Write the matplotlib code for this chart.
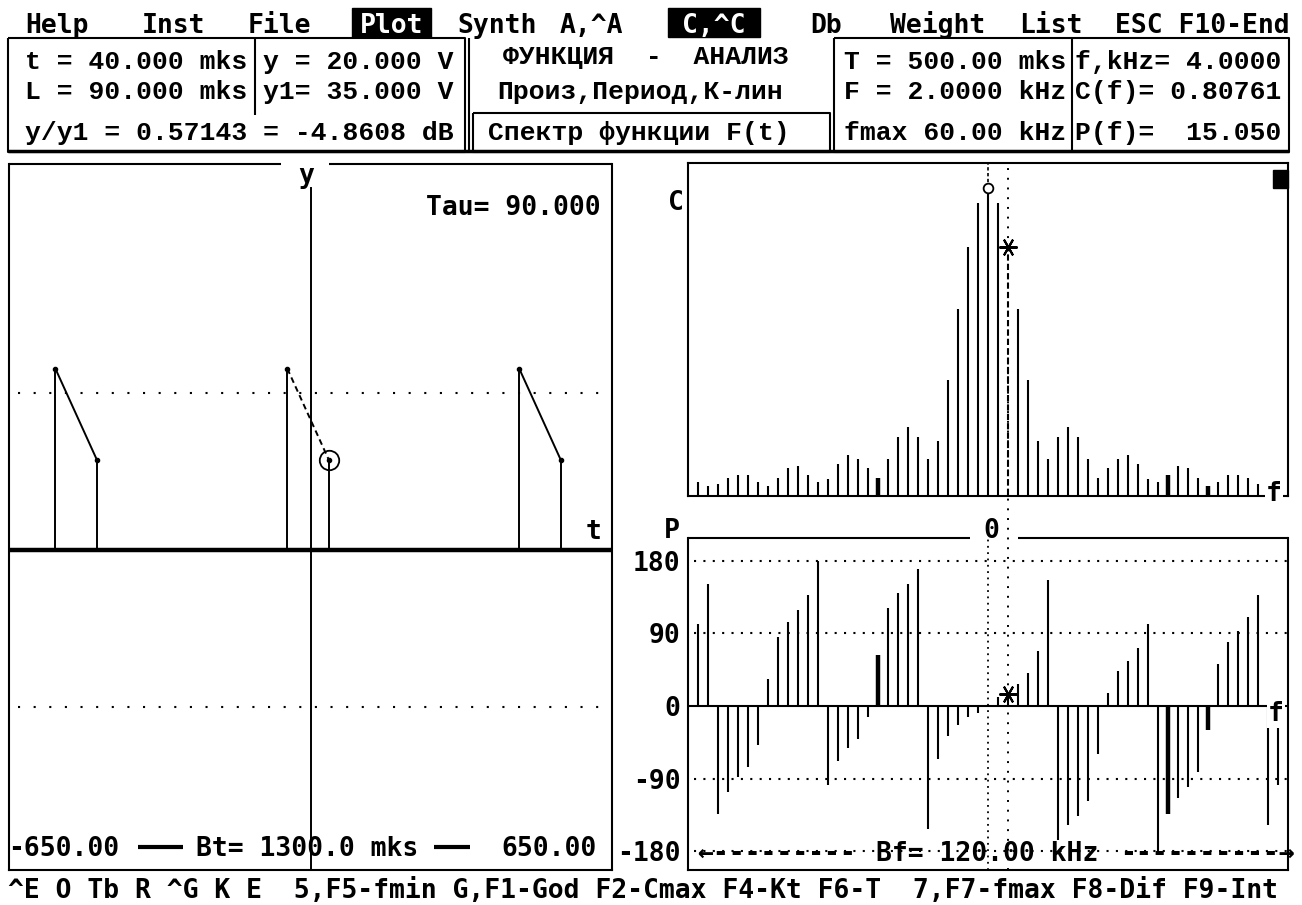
import numpy as np
import matplotlib.pyplot as plt
from matplotlib.patches import Rectangle
from matplotlib.lines import Line2D
from matplotlib.transforms import blended_transform_factory

W, H = 1302, 905

# --- сигнал во времени (mks, V) ---
T_RANGE = 650.0
PERIOD = 500.0
PULSE_L = 90.0
PULSE_T0 = [-550.0, -50.0, 450.0]     # начала импульсов
PULSE_Y = [40.5, 20.0]                # значение в начале и в конце импульса
Y1 = 35.0
T_CUR = 40.0
Y_CUR = 20.0
TAU = 90.0

# --- спектр (kHz) ---
F_STEP = 2.0
F_MAX = 60.0
F_CUR = 4.0
HARM = np.arange(-29, 30)
C_AMP = [0.043, 0.027, 0.036, 0.056, 0.065, 0.065, 0.043, 0.027, 0.056, 0.086,
         0.094, 0.065, 0.043, 0.051, 0.101, 0.129, 0.116, 0.086, 0.056, 0.116,
         0.188, 0.222, 0.188, 0.116, 0.174, 0.374, 0.604, 0.808, 0.951, 1.000,
         0.951, 0.80761, 0.604, 0.374, 0.174, 0.116, 0.188, 0.222, 0.188, 0.116,
         0.056, 0.086, 0.116, 0.129, 0.101, 0.051, 0.043, 0.065, 0.094, 0.086,
         0.056, 0.027, 0.043, 0.065, 0.065, 0.056, 0.036, 0.027, 0.043]
P_DEG = [101.6, 151, -133.8, -106, -88.3, -76, -48.7, 33, 85.9, 104.4,
         119, 137.5, 180, -97.8, -67.7, -51.6, -40.5, -13.2, 63.6, 121.4,
         140.4, 151, 170, -152.8, -65.2, -37.2, -23.5, -13.2, -8.3, 0,
         11.6, 15.05, 27.2, 41.3, 68.5, 156, -166, -147.4, -136.2, -117.2,
         -59.4, 16.5, 43.8, 55.3, 71.8, 101.6, -180, -133.8, -114.3, -100.7,
         -81.7, -29.7, 52, 79.7, 93.3, 109.8, 137, -147.4, -97.8]
THICK_HARM = [-11, 18, 22]
P_TICKS = [180, 90, 0, -90, -180]

DOS = ['DejaVu Sans Mono']
BOX = ['Liberation Mono', 'DejaVu Sans Mono']
FS = 19

plt.rcParams['font.family'] = DOS
plt.rcParams['font.weight'] = 'bold'

fig = plt.figure(figsize=(W / 100, H / 100), dpi=100)
fig.patch.set_facecolor('white')


def box(x0, y0, x1, y1):
    # пиксельный прямоугольник экрана -> координаты фигуры
    return [x0 / W, 1 - y1 / H, (x1 - x0) / W, (y1 - y0) / H]


axL = fig.add_axes(box(9, 164, 612, 870))
axC = fig.add_axes(box(688, 163, 1288, 496))
axP = fig.add_axes(box(688, 538, 1288, 870))
scr = fig.add_axes([0, 0, 1, 1], zorder=5)
scr.set_xlim(0, W)
scr.set_ylim(H, 0)
scr.axis('off')
scr.patch.set_visible(False)

for ax in (axL, axC, axP):
    for sp in ax.spines.values():
        sp.set_linewidth(1.5)
    ax.set_xticks([])
    ax.set_yticks([])
axL.spines['top'].set_visible(False)
axP.spines['top'].set_visible(False)

dots = (0, (1, 3.5))

# ---------------- левый график: F(t) ----------------
axL.set_xlim(-T_RANGE, T_RANGE)
axL.set_ylim(-71.5, 86.2)
axL.axhline(0, color='k', lw=3.2)
axL.axvline(0, ymax=0.966, color='k', lw=1.4)
for v in (Y1, -Y1):
    axL.axhline(v, xmin=0.015, xmax=0.99, color='k', lw=1.5, ls=(0, (1, 6.5)))
for t0 in PULSE_T0:
    t1 = t0 + PULSE_L
    cur = t0 <= T_CUR <= t1
    axL.plot([t0, t0], [0, PULSE_Y[0]], color='k', lw=1.4)
    axL.plot([t0, t1], PULSE_Y, color='k', lw=1.4, ls=(0, (3, 2)) if cur else '-')
    axL.plot([t1, t1], [PULSE_Y[1], 0], color='k', lw=1.4)
    axL.plot([t0, t1], PULSE_Y, 'o', color='k', ms=3)
axL.plot([T_CUR], [Y_CUR], 'o', mfc='none', mec='k', mew=1.3, ms=14)

# ---------------- спектр C(f) ----------------
freqs = HARM * F_STEP
axC.set_xlim(-F_MAX, F_MAX)
axC.set_ylim(-0.004, 1.08)
for n, f, c in zip(HARM, freqs, C_AMP):
    lw = 3.2 if n in THICK_HARM else 1.5
    ls = (0, (3, 1.5)) if f == F_CUR else '-'
    axC.vlines(f, 0, c, color='k', lw=lw, linestyles=[ls])
c0 = C_AMP[list(HARM).index(0)]
ccur = C_AMP[list(HARM).index(int(F_CUR / F_STEP))]
axC.vlines(0, c0, 1.08, color='k', lw=1.2, linestyles=[(0, (2, 1.5))])
axC.plot([0], [c0], 'o', mfc='white', mec='k', mew=1.3, ms=7)
axC.plot([F_CUR], [ccur], marker=(6, 2, 90), color='k', ms=13, mew=1.5)
axC.add_patch(Rectangle((0.975, 0.925), 0.025, 0.054, transform=axC.transAxes,
                        color='k', clip_on=False))

# ---------------- фаза P(f) ----------------
axP.set_xlim(-F_MAX, F_MAX)
axP.set_ylim(-203.2, 208.1)
axP.axhline(0, color='k', lw=1.5)
for v in (180, 90, -90, -180):
    axP.axhline(v, xmin=0.01, color='k', lw=1.5, ls=dots)
axP.axvline(0, color='k', lw=1.3, ls=(0, (1, 2.5)))
for n, f, p in zip(HARM, freqs, P_DEG):
    lw = 3.2 if n in THICK_HARM else 1.5
    axP.vlines(f, 0, p, color='k', lw=lw)
pcur = P_DEG[list(HARM).index(int(F_CUR / F_STEP))]
axP.plot([F_CUR], [pcur], marker=(6, 2, 90), color='k', ms=13, mew=1.5)
axP.set_yticks(P_TICKS)
axP.set_yticklabels([str(v) for v in P_TICKS])
axP.tick_params(axis='y', length=0, pad=5.5, labelsize=FS)

# курсор f = 4 kHz через оба графика
y_bot = axP.get_position().y0
y_top = axC.get_position().y1
fig.add_artist(Line2D([F_CUR, F_CUR], [y_bot, y_top], color='k', lw=1.4, ls=(0, (1, 4)),
                      transform=blended_transform_factory(axC.transData, fig.transFigure)))


# ---------------- экранный текст и рамки ----------------
def put(s, x, y, ha='left', va='baseline', fam=DOS, size=FS, color='k', bg=None):
    kw = {}
    if bg:
        kw['bbox'] = dict(facecolor=bg, edgecolor='none', pad=1)
    scr.text(x, y, s, ha=ha, va=va, family=fam, size=size, color=color,
             weight='bold', **kw)


def seg(xs, ys, lw=1.5):
    scr.plot(xs, ys, color='k', lw=lw, solid_capstyle='butt')


# меню
for s, x in [("Help", 25), ("Inst", 142), ("File", 248), ("Synth", 457),
             ("A,^A", 560), ("Db", 810), ("Weight", 890), ("List", 1019),
             ("ESC F10-End", 1115)]:
    put(s, x, 33)
for s, x0, x1 in [("Plot", 352, 431), ("C,^C", 668, 760)]:
    scr.add_patch(Rectangle((x0, 8), x1 - x0, 29, color='k'))
    put(s, (x0 + x1) / 2, 33, ha='center', color='white')

# рамки шапки
seg([8, 465, 465, 8, 8], [38, 38, 152, 152, 38])
seg([469, 469], [38, 152])
seg([255, 255], [38, 115])
seg([473, 830, 830, 473, 473], [113, 113, 152, 152, 113])
seg([834, 1289, 1289, 834, 834], [38, 38, 152, 152, 38])
seg([1072, 1072], [38, 152])
seg([8, 1289], [151, 151], lw=2.5)

ratio = Y_CUR / Y1
rows = [
    (f"t = {T_CUR:.3f} mks", 25, 69), (f"y = {Y_CUR:.3f} V", 263, 69),
    (f"L = {PULSE_L:.3f} mks", 25, 99), (f"y1= {Y1:.3f} V", 263, 99),
    (f"y/y1 = {ratio:.5f} = {20 * np.log10(ratio):.4f} dB", 25, 140),
    ("ФУНКЦИЯ  -  АНАЛИЗ", 503, 64), ("Произ,Период,К-лин", 497, 99),
    ("Спектр функции F(t)", 488, 140),
    (f"T = {PERIOD:.2f} mks", 844, 69), (f"F = {1000 / PERIOD:.4f} kHz", 844, 99),
    (f"fmax {F_MAX:.2f} kHz", 844, 140),
    (f"f,kHz= {F_CUR:.4f}", 1075, 69), (f"C(f)= {ccur:.5f}", 1075, 99),
    (f"P(f)=  {pcur:.3f}", 1075, 140),
]
for s, x, y in rows:
    put(s, x, y, fam=BOX)

# верхние рамки с разрывами под подписи
seg([9, 281], [164, 164])
seg([329, 612], [164, 164])
seg([688, 970], [538, 538])
seg([1018, 1288], [538, 538])

# подписи графиков
put("y", 306, 176, ha='center', va='center')
put(f"Tau= {TAU:.3f}", 601, 215, ha='right')
put("t", 594, 532, ha='center', va='center')
put(f"-{T_RANGE:.2f}", 8, 856)
put(f"Bt= {2 * T_RANGE:.1f} mks", 196, 856)
put(f"{T_RANGE:.2f}", 597, 856, ha='right')
seg([138, 183], [847, 847], lw=3)
seg([434, 470], [847, 847], lw=3)
put("C", 676, 203, ha='center', va='center')
put("f", 1274, 494, ha='center', va='center', bg='white')
put("P", 672, 531, ha='center', va='center')
put("0", 991, 531, ha='center', va='center')
put("f", 1276, 714, ha='center', va='center', bg='white')
put("←---------", 697, 861)
put(f"Bf= {2 * F_MAX:.2f} kHz", 876, 861)
put("----------→", 1295, 861, ha='right')

put("^E O Tb R ^G K E  5,F5-fmin G,F1-God F2-Cmax F4-Kt F6-T  7,F7-fmax F8-Dif F9-Int",
    8, 898)

fig.savefig("out.png", dpi=100, facecolor='white')
